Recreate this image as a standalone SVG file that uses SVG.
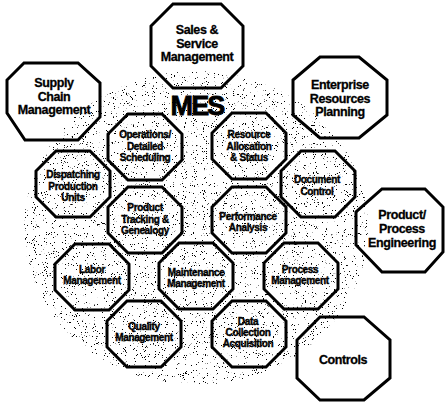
<svg xmlns="http://www.w3.org/2000/svg" xmlns:xlink="http://www.w3.org/1999/xlink" width="445" height="402" viewBox="0 0 445 402">
<style>
.oct{fill:none;stroke:#000;stroke-width:3;stroke-linejoin:miter}
.to{font-family:"Liberation Sans",Arial,sans-serif;font-weight:bold;font-size:12.5px;text-anchor:middle;fill:#000;stroke:#000;stroke-width:0.3px;letter-spacing:-0.4px}
.ti{font-family:"Liberation Sans",Arial,sans-serif;font-weight:bold;font-size:10px;text-anchor:middle;fill:#000;stroke:#000;stroke-width:0.4px;letter-spacing:-0.35px}
.mes{font-family:"Liberation Sans",Arial,sans-serif;font-weight:bold;font-size:27px;text-anchor:middle;fill:#000;stroke:#000;stroke-width:0.8px;letter-spacing:-1.8px}
</style>
<defs>
<filter id="noise" x="0" y="0" width="100%" height="100%" color-interpolation-filters="sRGB">
<feTurbulence type="fractalNoise" baseFrequency="0.9" numOctaves="2" seed="7" result="t"/>
<feColorMatrix in="t" type="matrix" values="0 0 0 0 0  0 0 0 0 0  0 0 0 0 0  30 0 0 0 -20.4" result="d"/>
<feComposite in="d" in2="SourceGraphic" operator="in"/>
</filter>
<polygon id="oi" class="oct" points="-17,-33 17,-33 37,-13 37,13 17,33 -17,33 -37,13 -37,-13"/>
</defs>
<rect width="445" height="402" fill="#fff"/>
<ellipse cx="196" cy="228" rx="172" ry="157" fill="#000" filter="url(#noise)"/>
<text class="mes" x="197" y="115">MES</text>

<g id="sales">
<polygon class="oct" points="173,4 221,4 243,26 243,66 221,88 173,88 151,66 151,26"/>
<text class="to" x="197" y="34">Sales &amp;</text>
<text class="to" x="197" y="47.5">Service</text>
<text class="to" x="197" y="61">Management</text>
</g>
<g id="supply">
<polygon class="oct" points="24,63 78,63 100,83 100,117 78,140 25,140 7,113 7,80"/>
<text class="to" x="54" y="87">Supply</text>
<text class="to" x="54" y="100.5">Chain</text>
<text class="to" x="54" y="114">Management</text>
</g>
<g id="erp">
<polygon class="oct" points="320,57 359,57 387,80 387,115 359,138 320,138 293,115 293,80"/>
<text class="to" x="340" y="89">Enterprise</text>
<text class="to" x="340" y="102.5">Resources</text>
<text class="to" x="340" y="116">Planning</text>
</g>
<g id="ppe">
<polygon class="oct" points="382,189 425,189 443,207 443,252 425,272 382,272 356,245 356,212"/>
<text class="to" x="402" y="219">Product/</text>
<text class="to" x="402" y="233">Process</text>
<text class="to" x="402" y="247">Engineering</text>
</g>
<g id="controls">
<polygon class="oct" points="320,317 364,317 390,340 390,378 364,400 320,400 297,378 297,340"/>
<text class="to" x="343" y="364">Controls</text>
</g>

<g id="ops">
<use xlink:href="#oi" x="145" y="147"/>
<text class="ti" x="145" y="138">Operations/</text>
<text class="ti" x="145" y="150">Detailed</text>
<text class="ti" x="145" y="161">Scheduling</text>
</g>
<g id="resource">
<use xlink:href="#oi" x="249" y="146"/>
<text class="ti" x="249" y="138">Resource</text>
<text class="ti" x="249" y="150">Allocation</text>
<text class="ti" x="249" y="161">&amp; Status</text>
</g>
<g id="dispatch">
<use xlink:href="#oi" x="73" y="184"/>
<text class="ti" x="73" y="178">Dispatching</text>
<text class="ti" x="73" y="190">Production</text>
<text class="ti" x="73" y="201">Units</text>
</g>
<g id="document">
<use xlink:href="#oi" x="318" y="184"/>
<text class="ti" x="317" y="183">Document</text>
<text class="ti" x="317" y="195">Control</text>
</g>
<g id="tracking">
<use xlink:href="#oi" x="145" y="220"/>
<text class="ti" x="145" y="211">Product</text>
<text class="ti" x="145" y="223">Tracking &amp;</text>
<text class="ti" x="145" y="234">Genealogy</text>
</g>
<g id="performance">
<use xlink:href="#oi" x="249" y="220"/>
<text class="ti" x="248" y="220">Performance</text>
<text class="ti" x="248" y="231">Analysis</text>
</g>
<g id="labor">
<use xlink:href="#oi" x="92" y="277"/>
<text class="ti" x="92" y="273">Labor</text>
<text class="ti" x="92" y="284">Management</text>
</g>
<g id="maintenance">
<use xlink:href="#oi" x="196" y="276"/>
<text class="ti" x="196" y="276">Maintenance</text>
<text class="ti" x="196" y="287">Management</text>
</g>
<g id="process">
<use xlink:href="#oi" x="301" y="276"/>
<text class="ti" x="300" y="273">Process</text>
<text class="ti" x="300" y="284">Management</text>
</g>
<g id="quality">
<use xlink:href="#oi" x="144" y="334"/>
<text class="ti" x="144" y="330">Quality</text>
<text class="ti" x="144" y="341">Management</text>
</g>
<g id="data">
<use xlink:href="#oi" x="249" y="334"/>
<text class="ti" x="248" y="325">Data</text>
<text class="ti" x="248" y="336">Collection</text>
<text class="ti" x="248" y="347">Acquisition</text>
</g>
</svg>
